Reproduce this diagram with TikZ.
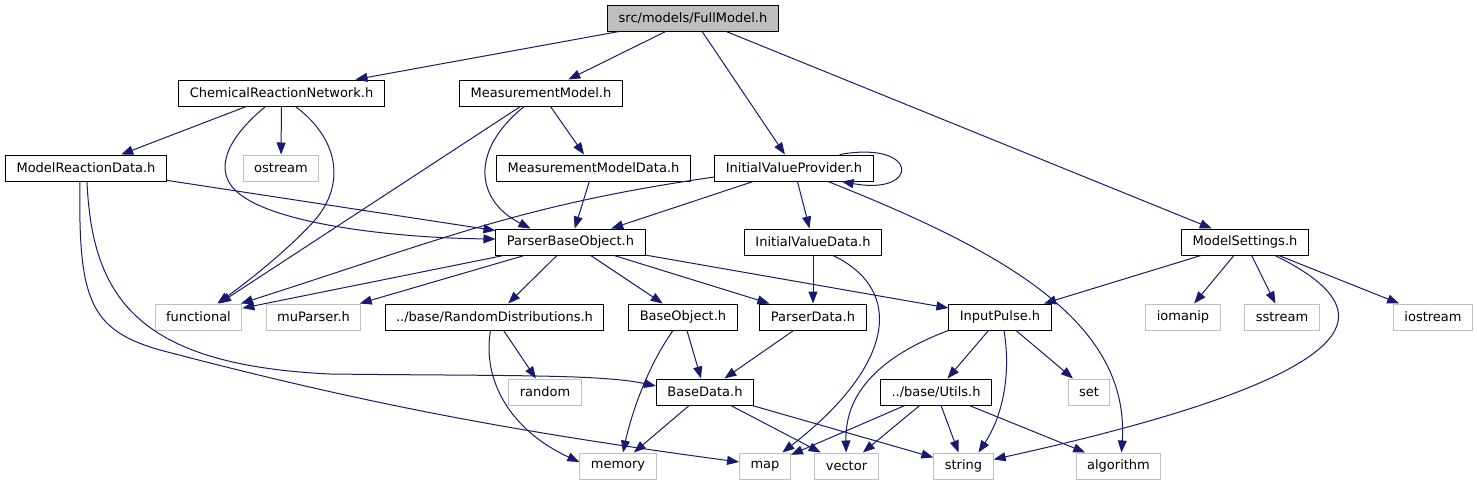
\documentclass[tikz,border=0pt]{standalone}
\usepackage{fontspec}
\newfontfamily\dejavu{DejaVu Sans}
\usepackage{tikz}
\usetikzlibrary{arrows.meta, positioning, calc}
\definecolor{edgeblue}{HTML}{191970}
\definecolor{sysgray}{HTML}{BFBFBF}
\definecolor{rootfill}{HTML}{BFBFBF}
\tikzset{
  header/.style={draw=black, line width=1pt, rectangle, inner xsep=11pt, inner ysep=0pt,
                 minimum height=26pt, font=\dejavu\fontsize{13}{15}\selectfont},
  sysheader/.style={header, draw=sysgray},
  rootheader/.style={header, fill=rootfill},
  incl/.style={draw=edgeblue, line width=1pt, -{Triangle[length=12pt,width=9pt]}}
}

\begin{document}
\begin{tikzpicture}[x=1pt, y=-1pt]
\useasboundingbox (0,0) rectangle (1477,485);

% headers of the project
\node[rootheader] (fullmodel) at (693,18) {src/models/FullModel.h};
\node[header] (crn) at (281.5,93) {ChemicalReactionNetwork.h};
\node[header] (measmodel) at (541,93) {MeasurementModel.h};
\node[header] (reacdata) at (86,168) {ModelReactionData.h};
\node[header] (measdata) at (593.5,168) {MeasurementModelData.h};
\node[header] (ivprovider) at (794,168) {InitialValueProvider.h};
\node[header] (parserbase) at (570.5,242) {ParserBaseObject.h};
\node[header] (ivdata) at (813,242) {InitialValueData.h};
\node[header] (settings) at (1245,242) {ModelSettings.h};
\node[header] (randdist) at (494.5,317) {../base/RandomDistributions.h};
\node[header] (baseobj) at (683,317) {BaseObject.h};
\node[header] (parserdata) at (813,317) {ParserData.h};
\node[header] (inputpulse) at (1000,317) {InputPulse.h};
\node[header] (basedata) at (705,392) {BaseData.h};
\node[header] (utils) at (936,392) {../base/Utils.h};

% system headers
\node[sysheader] (ostream) at (281,168) {ostream};
\node[sysheader] (functional) at (198.5,317) {functional};
\node[sysheader] (muparser) at (313.5,317) {muParser.h};
\node[sysheader] (iomanip) at (1183,317) {iomanip};
\node[sysheader] (sstream) at (1282,317) {sstream};
\node[sysheader] (iostream) at (1433,317) {iostream};
\node[sysheader] (random) at (545,392) {random};
\node[sysheader] (set) at (1089,392) {set};
\node[sysheader] (memory) at (618,466) {memory};
\node[sysheader] (map) at (765,466) {map};
\node[sysheader] (vector) at (846.5,466) {vector};
\node[sysheader] (string) at (963.5,466) {string};
\node[sysheader] (algorithm) at (1118.5,466) {algorithm};

% straight includes
\draw[incl] (fullmodel) -- (crn);
\draw[incl] (fullmodel) -- (measmodel);
\draw[incl] (fullmodel) -- (ivprovider);
\draw[incl] (fullmodel) -- (settings);
\draw[incl] (crn) -- (reacdata);
\draw[incl] (crn) -- (ostream);
\draw[incl] (measmodel) -- (measdata);
\draw[incl] (measmodel) -- (functional);
\draw[incl] (measdata) -- (parserbase);
\draw[incl] (reacdata) -- (parserbase);
\draw[incl] (ivprovider) -- (parserbase);
\draw[incl] (ivprovider) -- (ivdata);
\draw[incl] (parserbase) -- (functional);
\draw[incl] (parserbase) -- (muparser);
\draw[incl] (parserbase) -- (randdist);
\draw[incl] (parserbase) -- (baseobj);
\draw[incl] (parserbase) -- (parserdata);
\draw[incl] (parserbase) -- (inputpulse);
\draw[incl] (ivdata) -- (parserdata);
\draw[incl] (settings) -- (inputpulse);
\draw[incl] (settings) -- (iomanip);
\draw[incl] (settings) -- (sstream);
\draw[incl] (settings) -- (iostream);
\draw[incl] (randdist) -- (random);
\draw[incl] (baseobj) -- (basedata);
\draw[incl] (parserdata) -- (basedata);
\draw[incl] (basedata) -- (memory);
\draw[incl] (basedata) -- (vector);
\draw[incl] (basedata) -- (string);
\draw[incl] (inputpulse) -- (utils);
\draw[incl] (inputpulse) -- (set);
\draw[incl] (utils) -- (map);
\draw[incl] (utils) -- (vector);
\draw[incl] (utils) -- (string);
\draw[incl] (utils) -- (algorithm);

% curved includes
\draw[incl] ([xshift=-16pt]crn.south) .. controls (225,140) and (215,170) .. (235,190)
  .. controls (270,225) and (400,238) .. ([yshift=3pt]parserbase.west);
\draw[incl] ([xshift=14pt]crn.south) .. controls (340,140) and (345,185) .. (315,220)
  .. controls (290,248) and (250,280) .. (functional);
\draw[incl] (measmodel) .. controls (470,150) and (475,200) .. ([xshift=-40pt]parserbase.north);
\draw[incl] ([yshift=-9pt]ivprovider.west) .. controls (520,205) and (440,240) .. (functional);
\draw[incl] ([xshift=-34pt]ivprovider.north east) .. controls (920,140) and (920,196)
  .. ([xshift=-32pt]ivprovider.south east);
\draw[incl] ([xshift=34pt]ivprovider.south) .. controls (1000,250) and (1130,320) .. ([xshift=3pt]algorithm.north);
\draw[incl] ([xshift=20pt]ivdata.south) .. controls (905,290) and (895,365) .. (map);
\draw[incl] ([xshift=30pt]settings.south) .. controls (1325,280) and (1348,305) .. (1335,330)
  .. controls (1310,380) and (1150,425) .. (string);
\draw[incl] ([xshift=1pt]reacdata.south) .. controls (92,300) and (140,365) .. (330,374)
  .. controls (500,376) and (600,374) .. ([yshift=6pt]basedata.west);
\draw[incl] ([xshift=-6pt]reacdata.south) .. controls (78,300) and (90,330) .. (160,350)
  .. controls (350,400) and (500,430) .. ([yshift=4pt]map.west);
\draw[incl] ([xshift=-4pt]randdist.south) .. controls (482,380) and (510,430) .. ([yshift=4pt]memory.west);
\draw[incl] ([xshift=-10pt]baseobj.south) .. controls (645,370) and (630,420) .. ([xshift=5pt]memory.north);
\draw[incl] (inputpulse.south west) .. controls (870,360) and (845,400) .. (vector);
\draw[incl] ([xshift=4pt]inputpulse.south) .. controls (1012,380) and (1000,420) .. ([xshift=15pt]string.north);
\end{tikzpicture}
\end{document}
